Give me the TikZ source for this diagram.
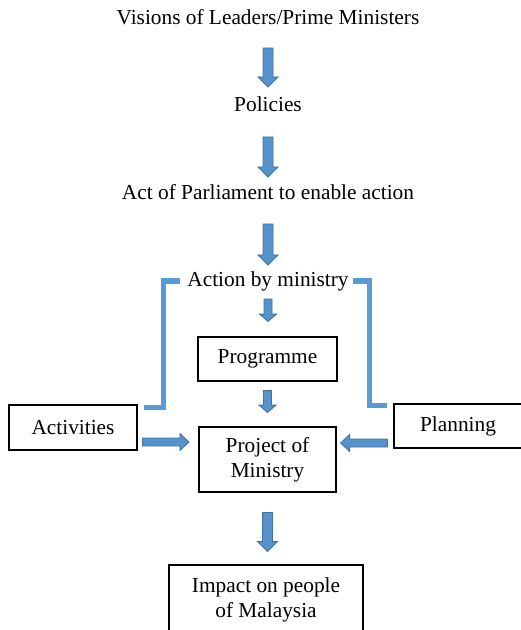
\documentclass[tikz,border=0pt]{standalone}
\usepackage{fontspec}
\setmainfont{Liberation Serif}
\usetikzlibrary{calc}
\definecolor{arrowfill}{RGB}{88,146,204}
\definecolor{arrowline}{RGB}{65,113,156}
\definecolor{bracketblue}{RGB}{91,155,213}
\tikzset{
  flow/.style n args={3}{fill=arrowfill,draw=arrowline,line width=0.6pt,
    to path={let \p1=(\tikztostart), \p2=(\tikztotarget), \p3=($(\p2)!#3!(\p1)$) in
      ($(\p1)!#1!90:(\p2)$) -- ($(\p3)!#1!90:(\p2)$) -- ($(\p3)!#2!90:(\p2)$) -- (\p2)
      -- ($(\p3)!#2!-90:(\p2)$) -- ($(\p3)!#1!-90:(\p2)$) -- ($(\p1)!#1!-90:(\p2)$) -- cycle}},
  bigflow/.style={flow={3.75pt}{7.5pt}{7.5pt}},
  smallflow/.style={flow={3pt}{6.4pt}{5.5pt}},
  sideflow/.style={flow={3pt}{6.4pt}{6.8pt}},
  bracket/.style={draw=bracketblue,line width=4.2pt},
  box/.style={draw,line width=0.8pt,align=center,inner sep=2pt},
  every node/.style={font=\fontsize{16}{18.75}\selectfont}
}
\begin{document}
\begin{tikzpicture}[x=0.75pt,y=-0.75pt]
  \useasboundingbox (0,0) rectangle (520,630);
  \node[inner sep=0] (vis) at (268,17) {Visions of Leaders/Prime Ministers};
  \node[inner sep=0] (pol) at (268,104) {Policies};
  \node[inner sep=0] (parl) at (268,192) {Act of Parliament to enable action};
  \node[inner sep=0] (mact) at (268,281) {Action by ministry};
  \node[box,minimum width=104.25pt,minimum height=33pt] (prog) at (267.5,359) {Programme};
  \node[box,minimum width=102.75pt,minimum height=48.75pt] (proj) at (267.5,459.5)
  {Project of\\Ministry};
  \node[box,minimum width=96pt,minimum height=33.75pt] (acts) at (73,427.5) {Activities};
  \node[box,minimum width=96pt,minimum height=33pt] (plan) at (458,426) {Planning};
  \node[box,minimum width=145.5pt,minimum height=52.5pt] (imp) at (266,600)
  {Impact on people\\of Malaysia};
  \draw[bigflow] ($(vis)+(0,31)$) to ($(pol)+(0,-17)$);
  \draw[bigflow] ($(pol)+(0,33)$) to ($(parl)+(0,-15)$);
  \draw[bigflow] ($(parl)+(0,32)$) to ($(mact)+(0,-16)$);
  \draw[smallflow] ($(mact)+(0,18)$) to ($(prog.north -| mact)+(0,-15)$);
  \draw[smallflow] ($(prog.south)+(0,9)$) to ($(proj.north -| prog.south)+(0,-14)$);
  \draw[sideflow] ($(acts.east)+(5,14.5)$) to ($(proj.west |- acts.east)+(-9.5,14.5)$);
  \draw[sideflow] ($(plan.west)+(-6,17)$) to ($(proj.east |- plan.west)+(4,17)$);
  \draw[bigflow] ($(proj.south)+(0,20)$) to ($(imp.north -| proj.south)+(0,-13)$);
  \draw[bracket] ($(mact.west)+(-7,0)$) -| ($(acts.north east)+(26,3)$)
  -- ($(acts.north east)+(6,3)$);
  \draw[bracket] ($(mact.east)+(4,0)$) -| ($(plan.north west)+(-24,2)$)
  -- ($(plan.north west)+(-6,2)$);
\end{tikzpicture}
\end{document}
